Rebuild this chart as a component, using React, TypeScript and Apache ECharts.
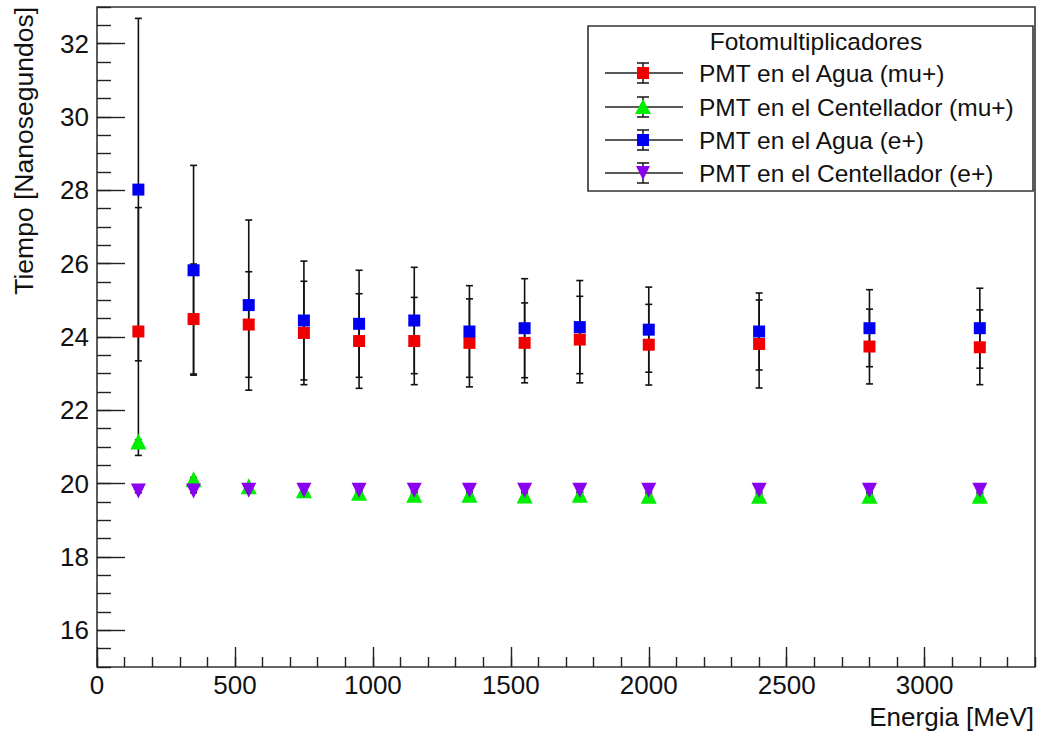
import React, { useEffect, useRef } from "react";
import * as echarts from "echarts";

// ---- data ----
const energies = [150, 350, 550, 750, 950, 1150, 1350, 1550, 1750, 2000, 2400, 2800, 3200];

const aguaMu = [24.15, 24.49, 24.34, 24.11, 23.89, 23.89, 23.84, 23.84, 23.93, 23.79, 23.81, 23.74, 23.72];
const aguaMuErr = [3.38, 1.5, 1.44, 1.41, 1.29, 1.19, 1.2, 1.09, 1.18, 1.1, 1.2, 1.02, 1.02];

const centMu = [21.15, 20.12, 19.93, 19.82, 19.75, 19.7, 19.7, 19.68, 19.7, 19.67, 19.67, 19.67, 19.67];
const centMuErr = [0.05, 0.05, 0.05, 0.05, 0.05, 0.05, 0.05, 0.05, 0.05, 0.05, 0.05, 0.05, 0.05];

const aguaE = [28.02, 25.82, 24.87, 24.45, 24.36, 24.45, 24.15, 24.24, 24.27, 24.2, 24.15, 24.24, 24.24];
const aguaEErr = [4.67, 2.86, 2.32, 1.62, 1.46, 1.45, 1.25, 1.35, 1.27, 1.16, 1.05, 1.05, 1.09];

const centE = [19.8, 19.8, 19.82, 19.82, 19.82, 19.82, 19.82, 19.82, 19.82, 19.82, 19.82, 19.82, 19.82];
const centEErr = [0.05, 0.05, 0.05, 0.05, 0.05, 0.05, 0.05, 0.05, 0.05, 0.05, 0.05, 0.05, 0.05];

const xTickValues = [0, 500, 1000, 1500, 2000, 2500, 3000];
const yTickValues = [16, 18, 20, 22, 24, 26, 28, 30, 32];

const legendTitle = "Fotomultiplicadores";
const seriesNames = [
  "PMT en el Agua (mu+)",
  "PMT en el Centellador (mu+)",
  "PMT en el Agua (e+)",
  "PMT en el Centellador (e+)",
];
const xTitle = "Energia [MeV]";
const yTitle = "Tiempo [Nanosegundos]";

const FONT = "'Liberation Sans', Arial, Helvetica, sans-serif";
const colors = ["#f00000", "#00ee00", "#0000f0", "#8a00f0"];

export default function App() {
  const ref = useRef<HTMLDivElement>(null);

  useEffect(() => {
    if (!ref.current) return;
    const chart = echarts.init(ref.current, undefined, { renderer: "svg" });

    const groups = [
      { vals: aguaMu, errs: aguaMuErr, symbol: "rect", size: 12, rot: 0 },
      { vals: centMu, errs: centMuErr, symbol: "triangle", size: 16, rot: 0 },
      { vals: aguaE, errs: aguaEErr, symbol: "rect", size: 12, rot: 0 },
      { vals: centE, errs: centEErr, symbol: "triangle", size: 15, rot: 180 },
    ];

    const errRender = (params: any, api: any) => {
      const x = api.value(0);
      const y = api.value(1);
      const e = api.value(2);
      const hi = api.coord([x, y + e]);
      const lo = api.coord([x, y - e]);
      const st = { stroke: "#111", lineWidth: 1.6 };
      const cw = 3.5;
      return {
        type: "group",
        children: [
          { type: "line", shape: { x1: hi[0], y1: hi[1], x2: lo[0], y2: lo[1] }, style: st },
          { type: "line", shape: { x1: hi[0] - cw, y1: hi[1], x2: hi[0] + cw, y2: hi[1] }, style: st },
          { type: "line", shape: { x1: lo[0] - cw, y1: lo[1], x2: lo[0] + cw, y2: lo[1] }, style: st },
        ],
      };
    };

    const series: any[] = [];
    groups.forEach((g, i) => {
      series.push({
        type: "custom",
        name: seriesNames[i] + " err",
        xAxisIndex: 0,
        yAxisIndex: 0,
        renderItem: errRender,
        encode: { x: 0, y: 1 },
        data: energies.map((x, k) => [x, g.vals[k], g.errs[k]]),
        z: 2,
        silent: true,
      });
      series.push({
        type: "scatter",
        name: seriesNames[i],
        xAxisIndex: 0,
        yAxisIndex: 0,
        symbol: g.symbol,
        symbolSize: g.size,
        symbolRotate: g.rot,
        itemStyle: { color: colors[i], opacity: 1 },
        data: energies.map((x, k) => [x, g.vals[k]]),
        z: 2,
      });
    });

    // legend drawn as graphic
    const lx0 = 588, ly0 = 26, lw = 445, lh = 165;
    const rowsY = [73, 107, 140, 173];
    const legendChildren: any[] = [
      {
        type: "rect",
        shape: { x: lx0, y: ly0, width: lw, height: lh },
        style: { fill: "#fff", stroke: "#333", lineWidth: 1.6 },
      },
      {
        type: "text",
        style: {
          x: 816, y: 41, text: legendTitle, font: `24.5px ${FONT}`,
          fill: "#111", align: "center", verticalAlign: "middle",
        },
      },
    ];
    rowsY.forEach((ry, i) => {
      const mx = 643;
      const ls = { stroke: "#222", lineWidth: 1.6 };
      legendChildren.push(
        { type: "line", shape: { x1: 605, y1: ry, x2: 683, y2: ry }, style: ls },
        { type: "line", shape: { x1: mx, y1: ry - 10, x2: mx, y2: ry + 10 }, style: ls },
        { type: "line", shape: { x1: mx - 6, y1: ry - 10, x2: mx + 6, y2: ry - 10 }, style: ls },
        { type: "line", shape: { x1: mx - 6, y1: ry + 10, x2: mx + 6, y2: ry + 10 }, style: ls }
      );
      const g = groups[i];
      if (g.symbol === "rect") {
        legendChildren.push({
          type: "rect",
          shape: { x: mx - 6, y: ry - 6, width: 12, height: 12 },
          style: { fill: colors[i] },
        });
      } else if (g.rot === 0) {
        legendChildren.push({
          type: "polygon",
          shape: { points: [[mx, ry - 8], [mx + 8, ry + 7], [mx - 8, ry + 7]] },
          style: { fill: colors[i] },
        });
      } else {
        legendChildren.push({
          type: "polygon",
          shape: { points: [[mx - 7, ry - 7], [mx + 7, ry - 7], [mx, ry + 7]] },
          style: { fill: colors[i] },
        });
      }
      legendChildren.push({
        type: "text",
        style: {
          x: 699, y: ry, text: seriesNames[i], font: `24.5px ${FONT}`,
          fill: "#111", align: "left", verticalAlign: "middle",
        },
      });
    });

    const option: any = {
      animation: false,
      backgroundColor: "#fff",
      grid: {
        left: 97, right: 5, top: 7, bottom: 64,
        show: true, borderColor: "#333", borderWidth: 1.6, backgroundColor: "transparent",
      },
      xAxis: [
        {
          type: "value", min: 0, max: 3400, position: "bottom",
          axisLine: { show: false }, splitLine: { show: false },
          axisTick: { inside: true, length: 20, customValues: xTickValues, lineStyle: { color: "#222", width: 1.4 } },
          axisLabel: {
            customValues: xTickValues, fontSize: 26, lineHeight: 26, color: "#111", margin: 5, fontFamily: FONT,
            formatter: (v: number) => String(v),
          },
        },
        {
          type: "value", min: 0, max: 3400, interval: 100, position: "bottom",
          axisLine: { show: false }, splitLine: { show: false },
          axisTick: { inside: true, length: 10, lineStyle: { color: "#222", width: 1.4 } },
          axisLabel: { show: false },
        },
      ],
      yAxis: [
        {
          type: "value", min: 15, max: 33, position: "left",
          axisLine: { show: false }, splitLine: { show: false },
          axisTick: { inside: true, length: 28, customValues: yTickValues, lineStyle: { color: "#222", width: 1.4 } },
          axisLabel: {
            customValues: yTickValues, fontSize: 26, color: "#111", margin: 8, fontFamily: FONT,
            formatter: (v: number) => String(v),
          },
        },
        {
          type: "value", min: 15, max: 33, interval: 0.5, position: "left",
          axisLine: { show: false }, splitLine: { show: false },
          axisTick: { inside: true, length: 14, lineStyle: { color: "#222", width: 1.4 } },
          axisLabel: { show: false },
        },
      ],
      series,
      graphic: [
        ...legendChildren,
        {
          type: "text",
          style: {
            x: 1034, y: 717, text: xTitle, font: `26px ${FONT}`, lineHeight: 26,
            fill: "#111", align: "right", verticalAlign: "middle",
          },
        },
        {
          type: "text",
          x: 24, y: 7, rotation: Math.PI / 2,
          style: {
            x: 0, y: 0, text: yTitle, font: `26.5px ${FONT}`,
            fill: "#111", align: "right", verticalAlign: "middle",
          },
        },
      ],
    };

    chart.setOption(option);
    return () => chart.dispose();
  }, []);

  return (
    <div
      ref={ref}
      style={{ position: "fixed", left: 0, top: 0, width: 1040, height: 731, background: "#fff" }}
    />
  );
}
